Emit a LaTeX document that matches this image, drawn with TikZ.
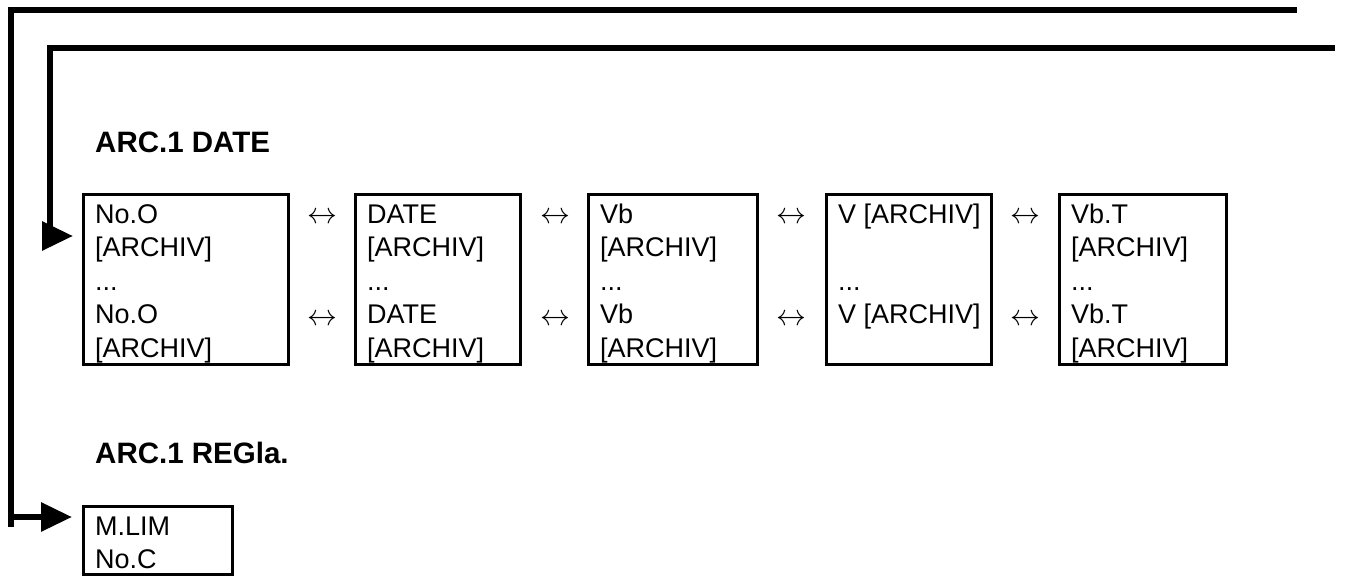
\documentclass[tikz,border=0pt]{standalone}
\usepackage{fontspec}
\setmainfont{Liberation Sans}
\usetikzlibrary{arrows.meta,calc}
\tikzset{
  bx/.style={draw, line width=3pt, minimum height=170pt, anchor=north west, inner sep=0pt, outer sep=0pt},
  txt/.style={anchor=base west, inner sep=0pt, font=\fontsize{27}{33.5}\selectfont},
  hd/.style={anchor=base west, inner sep=0pt, font=\fontsize{29.5}{33.5}\selectfont\bfseries},
  lr/.style={anchor=base, inner sep=0pt, font=\fontsize{24.88}{30}\selectfont},
  conn/.style={line width=6pt, -{Triangle[length=31pt,width=28pt]}}
}
\newcommand\lrglyph{\scalebox{1.2}{$\leftrightarrow$}}
\begin{document}
\begin{tikzpicture}[x=1pt,y=-1pt]
\useasboundingbox (0,0) rectangle (1347,576);
% headings
\node[hd] (h1) at (95,152) {ARC.1 DATE};
\node[hd] (h2) at (95,463) {ARC.1 REGla.};
% boxes
\node[bx, minimum width=205pt] (b1) at (83,194) {};
\node[bx, minimum width=165pt] (b2) at (355,194) {};
\node[bx, minimum width=169pt] (b3) at (588,194) {};
\node[bx, minimum width=165pt] (b4) at (826,194) {};
\node[bx, minimum width=167pt] (b5) at (1059,194) {};
\node[bx, minimum width=149pt, minimum height=68pt] (bm) at (83,506) {};
% texts
\node[txt] (t1) at ($(b1.north west)+(12,29)$) {\begin{tabular}[t]{@{}l@{}}No.O\\ {[ARCHIV]}\\ ...\\ No.O\\ {[ARCHIV]}\end{tabular}};
\node[txt] (t2) at ($(b2.north west)+(12,29)$) {\begin{tabular}[t]{@{}l@{}}DATE\\ {[ARCHIV]}\\ ...\\ DATE\\ {[ARCHIV]}\end{tabular}};
\node[txt] (t3) at ($(b3.north west)+(12,29)$) {\begin{tabular}[t]{@{}l@{}}Vb\\ {[ARCHIV]}\\ ...\\ Vb\\ {[ARCHIV]}\end{tabular}};
\node[txt] (t4) at ($(b4.north west)+(12,29)$) {\begin{tabular}[t]{@{}l@{}}V {[ARCHIV]}\\ \strut\\ ...\\ V {[ARCHIV]}\end{tabular}};
\node[txt] (t5) at ($(b5.north west)+(12,29)$) {\begin{tabular}[t]{@{}l@{}}Vb.T\\ {[ARCHIV]}\\ ...\\ Vb.T\\ {[ARCHIV]}\end{tabular}};
\node[txt] (tm) at ($(bm.north west)+(12,29)$) {\begin{tabular}[t]{@{}l@{}}M.LIM\\ No.C\end{tabular}};
% double arrows
\node[lr] (a1) at (322,223) {\lrglyph};
\node[lr] (a2) at (322,325) {\lrglyph};
\node[lr] (a3) at (555,223) {\lrglyph};
\node[lr] (a4) at (555,325) {\lrglyph};
\node[lr] (a5) at (791,223) {\lrglyph};
\node[lr] (a6) at (791,325) {\lrglyph};
\node[lr] (a7) at (1025,223) {\lrglyph};
\node[lr] (a8) at (1025,325) {\lrglyph};
% connectors
\coordinate (o1) at (1297,10);
\coordinate (o3) at (11,517);
\coordinate (o4) at (11,527);
\coordinate (i1) at (1335,47.5);
\coordinate (i3) at (50,236);
\draw[conn] (o1) -| (o3) -- ($(bm.north west)+(-11,11)$);
\draw[line width=6pt] (o3) -- (o4);
\draw[conn] (i1) -| (i3) -- ($(b1.north west)+(-10,42)$);
\end{tikzpicture}
\end{document}
